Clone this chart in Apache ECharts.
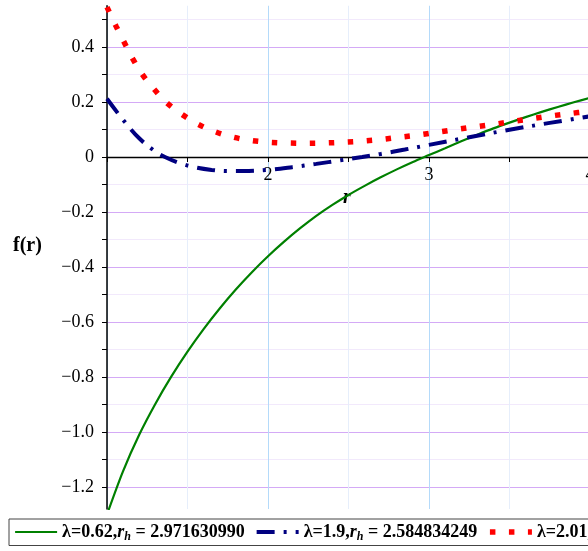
<!DOCTYPE html>
<html>
<head>
<meta charset="utf-8">
<script src="https://cdn.jsdelivr.net/npm/echarts@6/dist/echarts.min.js"></script>
<style>
html,body{margin:0;padding:0;background:#fff;}
#c{width:588px;height:551px;}
</style>
</head>
<body>
<div id="c"></div>
<script>
// ---- data ----
const greenR = [1.0, 1.1, 1.2, 1.3, 1.4, 1.5, 1.6, 1.7, 1.8, 1.9, 2.0, 2.1, 2.2, 2.3, 2.4, 2.5, 2.6, 2.7, 2.8, 2.9, 3.0, 3.1, 3.2, 3.3, 3.4, 3.5, 3.6, 3.7, 3.8, 3.9, 4.0];
const greenF = [-1.30, -1.142, -1.010, -0.898, -0.798, -0.708, -0.626, -0.551, -0.482, -0.419, -0.361, -0.308, -0.259, -0.214, -0.174, -0.138, -0.105, -0.074, -0.045, -0.018, 0.007, 0.032, 0.057, 0.081, 0.104, 0.125, 0.145, 0.164, 0.182, 0.199, 0.215];

const blueR = [1.0, 1.1, 1.2, 1.3, 1.36, 1.45, 1.55, 1.65, 1.75, 1.85, 2.0, 2.15, 2.3, 2.45, 2.585, 2.7, 2.85, 3.0, 3.25, 3.5, 3.75, 4.0];
const blueF = [0.212, 0.135, 0.068, 0.02, 0.0, -0.022, -0.038, -0.047, -0.051, -0.051, -0.047, -0.037, -0.025, -0.012, 0, 0.011, 0.027, 0.044, 0.072, 0.099, 0.124, 0.148];

const redR = [1.0, 1.056, 1.106, 1.161, 1.217, 1.286, 1.366, 1.453, 1.553, 1.658, 1.77, 1.882, 2.0, 2.124, 2.236, 2.354, 2.478, 2.59, 2.708, 2.82, 2.944, 3.07, 3.18, 3.29, 3.416, 3.53, 3.646, 3.764, 3.876, 4.0];
const redF = [0.545, 0.476, 0.418, 0.356, 0.302, 0.251, 0.2, 0.16, 0.123, 0.095, 0.074, 0.061, 0.054, 0.051, 0.05, 0.051, 0.054, 0.058, 0.064, 0.072, 0.081, 0.092, 0.101, 0.11, 0.12, 0.13, 0.14, 0.15, 0.158, 0.167];

// ticks / gridlines
const yTickValues = [-1.2, -1.1, -1.0, -0.9, -0.8, -0.7, -0.6, -0.5, -0.4, -0.3, -0.2, -0.1, 0, 0.1, 0.2, 0.3, 0.4, 0.5];
const yLabelValues = [-1.2, -1.0, -0.8, -0.6, -0.4, -0.2, 0, 0.2, 0.4];
const xTickValues = [1, 1.5, 2, 2.5, 3, 3.5, 4];
const xLabelValues = [2, 3, 4];

const seriesNames = ['g', 'b', 'r'];
const legendTexts = {
  g: '{t|λ=0.62,}{ri|r}{sub|h}{t| = 2.971630990}',
  b: '{t|λ=1.9,}{ri|r}{sub|h}{t| = 2.584834249}',
  r: '{t|λ=2.01,}{ri|r}{sub|h}{t| = 0}'
};
const xMin = 1, xMax = 4, yMin = -1.28, yMax = 0.55;

function pairs(xs, ys) { return xs.map((x, i) => [x, ys[i]]); }

const serif = 'Liberation Serif';
const gridTop = 5.75, gridBottomPx = 509;
const zeroPx = gridBottomPx - (0 - yMin) / (yMax - yMin) * (gridBottomPx - gridTop);

const chart = echarts.init(document.getElementById('c'), null, {renderer: 'canvas'});
chart.setOption({
  animation: false,
  backgroundColor: '#ffffff',
  grid: {left: 107, right: -2, top: gridTop, bottom: 551 - gridBottomPx, containLabel: false, outerBoundsMode: 'none'},
  xAxis: {
    type: 'value', min: xMin, max: xMax, position: 'bottom',
    offset: -(gridBottomPx - zeroPx),
    axisLine: {onZero: false, lineStyle: {color: '#000', width: 1.3}},
    axisTick: {show: true, length: 5, customValues: xTickValues, lineStyle: {color: '#000'}},
    axisLabel: {show: true, customValues: xLabelValues, hideOverlap: false, margin: 9, color: '#000', fontFamily: serif, fontSize: 18},
    splitLine: {show: true, lineStyle: {color: ['#b4dafa', '#e6eefb'], width: 1}}
  },
  yAxis: {
    type: 'value', min: yMin, max: yMax,
    axisLine: {show: true, onZero: false, lineStyle: {color: '#000', width: 1.5}},
    axisTick: {show: true, length: 5, customValues: yTickValues, lineStyle: {color: '#000'}},
    axisLabel: {
      customValues: yLabelValues, margin: 13, color: '#000', fontFamily: serif, fontSize: 18,
      formatter: v => {
        const r = Math.round(v * 10) / 10;
        if (Math.abs(r) < 1e-9) return '0';
        return (r < 0 ? '−' : '') + Math.abs(r).toFixed(1);
      }
    },
    splitLine: {show: true, lineStyle: {color: ['#d4aaf6', '#f2e9fc'], width: 1}}
  },
  legend: {
    show: true, left: 9, top: 519, width: 900, orient: 'horizontal',
    padding: [4, 6, 3, 5], itemGap: 10, itemWidth: 42, itemHeight: 14,
    borderColor: '#444', borderWidth: 1, backgroundColor: '#fff',
    itemStyle: {opacity: 0},
    lineStyle: {width: 'inherit'},
    data: seriesNames,
    formatter: name => legendTexts[name],
    textStyle: {
      color: '#000', fontFamily: serif, fontSize: 18, fontWeight: 'bold',
      rich: {
        t: {fontFamily: serif, fontSize: 18, fontWeight: 'bold', color: '#000'},
        ri: {fontFamily: serif, fontSize: 18, fontWeight: 'bold', fontStyle: 'italic', color: '#000'},
        sub: {fontFamily: serif, fontSize: 12, fontWeight: 'bold', fontStyle: 'italic', color: '#000', padding: [9, 0, 0, 0]}
      }
    }
  },
  graphic: [
    {type: 'text', left: 13, top: 236, style: {text: 'f(r)', font: 'bold 20px Liberation Serif', fill: '#000'}},
    {type: 'text', left: 343, top: 188, style: {text: 'r', font: 'italic bold 20px Liberation Serif', fill: '#000'}}
  ],
  series: [
    {name: 'g', type: 'line', data: pairs(greenR, greenF), smooth: 0.3, symbol: 'none', showSymbol: false,
     lineStyle: {color: '#008000', width: 2.2}, z: 3},
    {name: 'b', type: 'line', data: pairs(blueR, blueF), smooth: 0.35, symbol: 'none', showSymbol: false,
     lineStyle: {color: '#000080', width: 4, type: [18, 9, 3, 9], cap: 'butt'}, z: 4},
    {name: 'r', type: 'line', data: pairs(redR, redF), smooth: 0.35, symbol: 'none', showSymbol: false,
     lineStyle: {color: '#ff0000', width: 5.5, type: [5.5, 13.5], cap: 'butt'}, z: 5}
  ]
});
</script>
</body>
</html>
